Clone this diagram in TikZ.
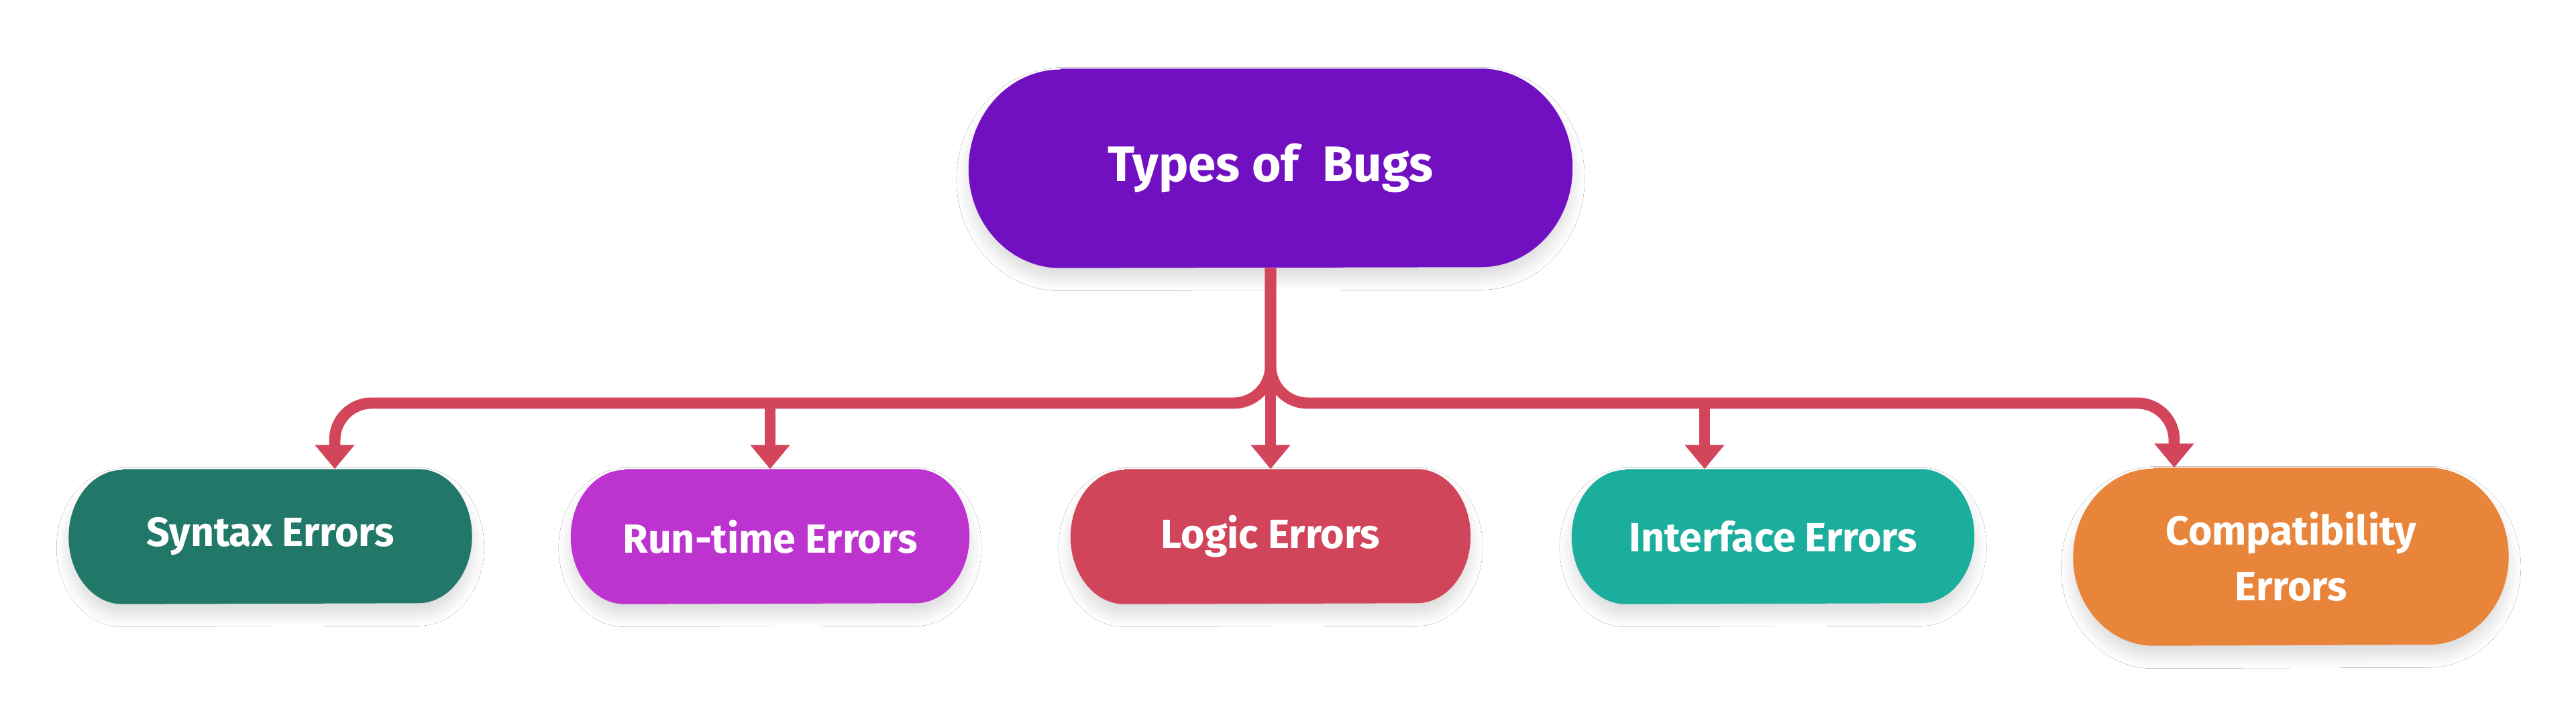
\documentclass[tikz,border=0pt]{standalone}
\usepackage{fontspec}
\setsansfont{Fira Sans}
\usetikzlibrary{arrows.meta,backgrounds,calc,shadows.blur}

\definecolor{bugpurple}{HTML}{7010C1}
\definecolor{synteal}{HTML}{217868}
\definecolor{runpink}{HTML}{BD33CF}
\definecolor{logicred}{HTML}{D1455B}
\definecolor{ifaceteal}{HTML}{1CAE9D}
\definecolor{compatorange}{HTML}{E8853A}
\definecolor{busred}{HTML}{D2455B}

\tikzset{
  bugtext/.style={font=\sffamily\bfseries\fontsize{17.3}{23.6}\selectfont, text=white, align=center, inner sep=0pt, minimum width=6cm, minimum height=2cm},
  bus/.style={draw=busred, line width=4.8pt, rounded corners=0.55cm},
  tip/.style={-{Triangle[length=0.36cm,width=0.57cm]}},
  pillshadow/.style={blur shadow={shadow xshift=0cm, shadow yshift=-0.16cm, shadow blur radius=0.18cm, shadow blur steps=12, shadow opacity=14}}
}

\begin{document}
\begin{tikzpicture}
\useasboundingbox (0,0) rectangle (38.4,10.65);

% Root
\node[bugtext, minimum width=8.99cm, minimum height=2.96cm, font=\sffamily\bfseries\fontsize{21.2}{26}\selectfont] (bugs) at (18.94,8.14) {Types of~ Bugs};

% Kinds of errors
\node[bugtext, minimum width=6cm] (syn) at (4.03,2.65) {Syntax Errors};
\node[bugtext, minimum width=5.93cm] (run) at (11.48,2.65) {Run-time Errors};
\node[bugtext, minimum width=5.95cm] (logic) at (18.94,2.65) {Logic Errors};
\node[bugtext, minimum width=5.99cm] (iface) at (26.43,2.65) {Interface Errors};
\node[bugtext, minimum width=6.48cm, minimum height=2.64cm] (compat) at (34.15,2.35) {Compatibility\\Errors};

% Bus
\coordinate (bus) at (18.94,4.64);
\draw[bus, tip] (bugs.south) -- (bugs.south |- bus) -| ([xshift=0.96cm]syn.north);
\draw[bus, tip] (bugs.south) -- (bugs.south |- bus) -| ([xshift=-1.74cm]compat.north);
\draw[bus, tip] (bugs.south) -- (logic.north);
\draw[bus, tip] (run.north |- bus) -- (run.north);
\draw[bus, tip] ([xshift=-1.02cm]iface.north |- bus) -- ([xshift=-1.02cm]iface.north);

% Pills
\begin{scope}[on background layer]
\fill[white] (0,0) rectangle (38.4,10.65);
\foreach \nd/\col/\rx/\ry in {bugs/bugpurple/1.37/1.48, syn/synteal/0.8/1, run/runpink/0.8/1, logic/logicred/0.8/1, iface/ifaceteal/0.8/1, compat/compatorange/1.2/1.32} {
  \fill[\col, pillshadow] ($(\nd.north west)+(\rx,0)$) -- ($(\nd.north east)-(\rx,0)$)
    arc[start angle=90, end angle=-90, x radius=\rx, y radius=\ry]
    -- ($(\nd.south west)+(\rx,0)$)
    arc[start angle=270, end angle=90, x radius=\rx, y radius=\ry] -- cycle;
}
\end{scope}
\end{tikzpicture}
\end{document}
